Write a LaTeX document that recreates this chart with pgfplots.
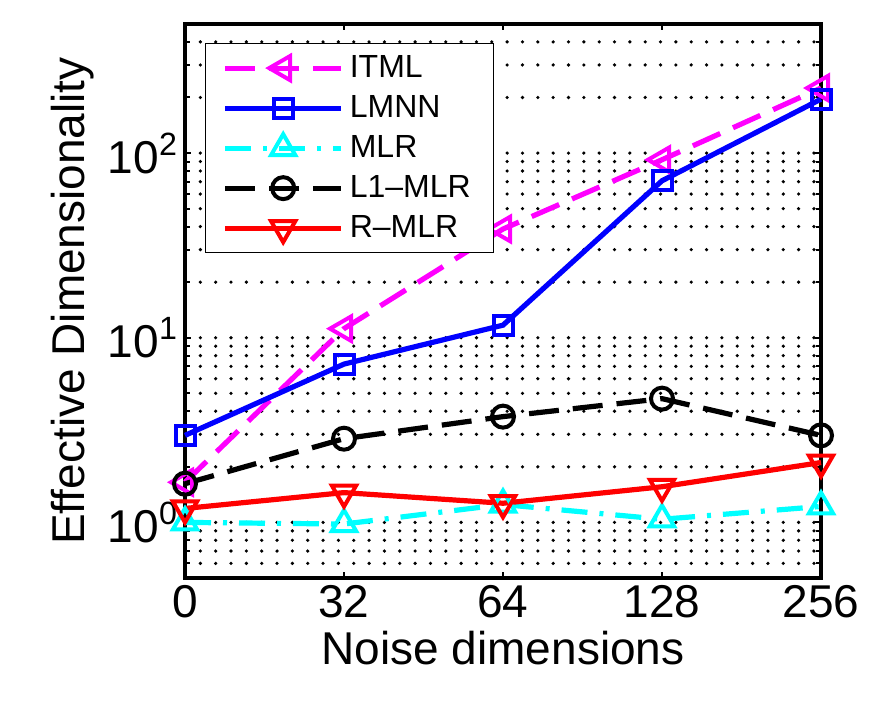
\documentclass[border=0pt]{standalone}
\usepackage{fontspec}
\setmainfont{Liberation Sans}
\usepackage{pgfplots}
\pgfplotsset{compat=1.18}
\definecolor{mag}{rgb}{1,0,1}
\definecolor{blu}{rgb}{0,0,1}
\definecolor{cya}{rgb}{0,1,1}
\definecolor{rd}{rgb}{1,0,0}
\begin{document}
\begin{tikzpicture}
\begin{axis}[
  scale only axis, width=318pt, height=277pt,
  ymode=log, ymin=0.5, ymax=500, xmin=0, xmax=4,
  xtick={0,1,2,3,4}, xticklabels={0,32,64,128,256},
  ytick={1,10,100}, yticklabels={10\textsuperscript{0},10\textsuperscript{1},10\textsuperscript{2}},
  minor ytick={0.6,0.7,0.8,0.9,2,3,4,5,6,7,8,9,20,30,40,50,60,70,80,90,200,300,400},
  ymajorgrids, yminorgrids,
  major grid style={black, line width=1.8pt, line cap=round, dash pattern=on 0pt off 7.67pt},
  minor grid style={black, line width=1.8pt, line cap=round, dash pattern=on 0pt off 7.67pt},
  tick align=inside, major tick length=3pt, minor tick length=2.5pt,
  axis line style={line width=1.6pt},
  every tick/.style={black, line width=1pt},
  tick label style={font=\fontsize{23}{27}\selectfont},
  label style={font=\fontsize{23}{27}\selectfont},
  /pgf/number format/assume math mode=true,
  xlabel={Noise dimensions}, ylabel={Effective Dimensionality},
  clip=false,
  legend cell align=left,
  legend style={at={(0,1)}, anchor=north west, xshift=10pt, yshift=-9.5pt,
    draw=black, line width=0.6pt, font=\fontsize{16}{18}\selectfont,
    row sep=3.5pt, inner xsep=8.5pt, inner ysep=4pt,
    nodes={inner xsep=3pt}},
  legend image code/.code={\draw[mark repeat=2, mark phase=2, #1] plot coordinates {(0pt,0pt) (29pt,0pt) (58pt,0pt)};},
]
\addplot[mag, line width=2.6pt, dash pattern=on 15pt off 7pt, mark=triangle, mark size=7pt,
  mark options={rotate=90, solid, line width=2pt}]
  coordinates {(0,1.65) (1,11.2) (2,38.8) (3,92) (4,225)};
\addlegendentry{ITML}
\addplot[blu, line width=2.6pt, mark=square, mark size=4.75pt, mark options={solid, line width=2pt}]
  coordinates {(0,2.96) (1,7.2) (2,11.7) (3,70.8) (4,196)};
\addlegendentry{LMNN}
\addplot[cya, line width=2.6pt, dash pattern=on 13pt off 6pt on 2pt off 6pt, mark=triangle, mark size=7pt,
  mark options={solid, line width=2pt}]
  coordinates {(0,1.0) (1,0.98) (2,1.25) (3,1.04) (4,1.22)};
\addlegendentry{MLR}
\addplot[black, line width=2.6pt, dash pattern=on 15pt off 7pt, mark=o, mark size=5.5pt,
  mark options={solid, line width=2pt}]
  coordinates {(0,1.62) (1,2.84) (2,3.74) (3,4.68) (4,2.96)};
\addlegendentry{L1--MLR}
\addplot[rd, line width=2.6pt, mark=triangle, mark size=7pt,
  mark options={rotate=180, solid, line width=2pt}]
  coordinates {(0,1.19) (1,1.45) (2,1.27) (3,1.56) (4,2.11)};
\addlegendentry{R--MLR}
\end{axis}
\pgfresetboundingbox
\useasboundingbox (-92.5pt,-61.5pt) rectangle (345.5pt,289pt);
\end{tikzpicture}
\end{document}
